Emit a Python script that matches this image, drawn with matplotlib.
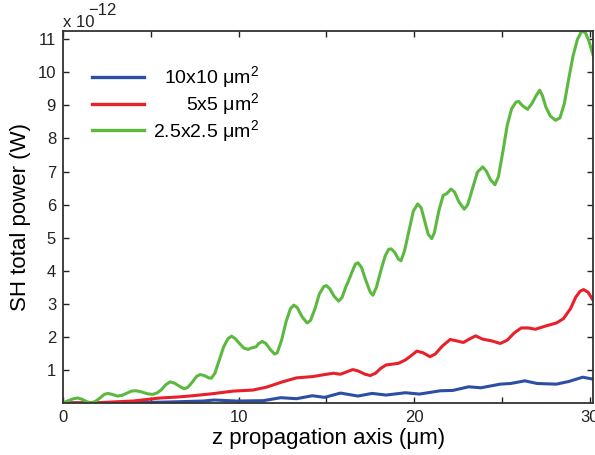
import matplotlib
matplotlib.use('Agg')
import matplotlib.pyplot as plt

plt.rcParams['font.family'] = ['Liberation Sans', 'DejaVu Sans']
plt.rcParams['mathtext.fontset'] = 'custom'
plt.rcParams['mathtext.rm'] = 'Liberation Sans'
plt.rcParams['mathtext.it'] = 'Liberation Sans'

# SH total power vs propagation distance, in units of 1e-12 W
z_green = [0.0, 0.3, 0.6, 0.85, 1.1, 1.35, 1.6, 1.85, 2.1, 2.35, 2.55, 2.8, 3.1, 3.35, 3.65,
           3.9, 4.15, 4.45, 4.8, 5.1, 5.35, 5.6, 5.85, 6.1, 6.35, 6.65, 6.9, 7.1, 7.35, 7.6,
           7.8, 8.05, 8.3, 8.45, 8.65, 8.9, 9.15, 9.4, 9.6, 9.8, 10.05, 10.3, 10.55, 10.7,
           10.85, 11.0, 11.15, 11.35, 11.55, 11.8, 12.05, 12.2, 12.45, 12.7, 12.95, 13.15,
           13.35, 13.6, 13.9, 14.1, 14.35, 14.6, 14.85, 15.0, 15.2, 15.45, 15.7, 15.9, 16.1,
           16.25, 16.45, 16.65, 16.8, 17.0, 17.25, 17.5, 17.65, 17.85, 18.1, 18.35, 18.55,
           18.7, 18.9, 19.1, 19.25, 19.45, 19.7, 19.95, 20.2, 20.4, 20.6, 20.8, 21.0, 21.15,
           21.4, 21.65, 21.85, 22.1, 22.3, 22.55, 22.85, 23.05, 23.3, 23.6, 23.9, 24.1, 24.35,
           24.6, 24.8, 25.05, 25.3, 25.55, 25.8, 25.95, 26.15, 26.45, 26.7, 26.95, 27.15,
           27.3, 27.5, 27.75, 28.05, 28.3, 28.55, 28.8, 29.05, 29.3, 29.55, 29.75, 29.95, 30.2]
p_green = [0.0, 0.07, 0.13, 0.15, 0.11, 0.04, 0.0, 0.05, 0.15, 0.26, 0.29, 0.26, 0.21, 0.23,
           0.3, 0.36, 0.37, 0.34, 0.28, 0.26, 0.3, 0.4, 0.55, 0.64, 0.6, 0.5, 0.43, 0.47,
           0.62, 0.8, 0.86, 0.83, 0.76, 0.75, 0.9, 1.3, 1.7, 1.95, 2.02, 1.95, 1.8, 1.66,
           1.62, 1.66, 1.68, 1.7, 1.8, 1.86, 1.8, 1.62, 1.48, 1.52, 1.9, 2.45, 2.85, 2.96,
           2.88, 2.62, 2.42, 2.5, 2.85, 3.3, 3.52, 3.55, 3.45, 3.22, 3.08, 3.2, 3.5, 3.68,
           3.95, 4.2, 4.24, 4.1, 3.7, 3.35, 3.26, 3.5, 4.0, 4.45, 4.65, 4.66, 4.55, 4.35,
           4.3, 4.6, 5.2, 5.8, 6.02, 5.9, 5.5, 5.1, 4.97, 5.15, 5.8, 6.28, 6.33, 6.47, 6.38,
           6.08, 5.86, 6.0, 6.45, 6.98, 7.14, 7.02, 6.75, 6.6, 6.85, 7.6, 8.4, 8.9, 9.1,
           9.12, 9.0, 8.88, 9.05, 9.3, 9.46, 9.3, 8.95, 8.68, 8.55, 8.62, 9.05, 9.8, 10.5,
           11.0, 11.25, 11.2, 10.95, 10.5]

z_red = [0, 2, 4, 5.5, 6.5, 7.4, 8.5, 9.7, 10.8, 11.6, 12.5, 13.3, 14.25, 14.9, 15.4, 15.8,
         16.2, 16.5, 16.8, 17.2, 17.5, 17.8, 18.1, 18.4, 19.1, 19.5, 19.8, 20.15, 20.5, 20.9,
         21.2, 21.6, 22.05, 22.4, 22.8, 23.2, 23.5, 23.9, 24.4, 24.9, 25.3, 25.7, 26.1, 26.5,
         26.9, 27.5, 28.1, 28.5, 28.9, 29.2, 29.45, 29.65, 29.9, 30.2]
p_red = [0, 0.01, 0.06, 0.15, 0.18, 0.22, 0.28, 0.36, 0.39, 0.48, 0.64, 0.76, 0.8, 0.86,
         0.9, 0.87, 0.95, 1.01, 0.97, 0.87, 0.83, 0.9, 1.05, 1.15, 1.2, 1.3, 1.42, 1.57, 1.52,
         1.4, 1.48, 1.72, 1.92, 1.88, 1.83, 1.95, 2.03, 1.93, 1.88, 1.8, 1.9, 2.12, 2.27,
         2.27, 2.23, 2.33, 2.42, 2.55, 2.85, 3.2, 3.38, 3.43, 3.35, 3.1]

z_blue = [0, 4, 6, 8, 8.6, 9.9, 11.4, 12.4, 13.3, 14.2, 14.9, 15.8, 16.8, 17.6, 18.4, 19.5,
          20.3, 21.5, 22.2, 23.1, 23.8, 24.9, 25.5, 26.3, 27.0, 28.1, 28.8, 29.6, 30.2]
p_blue = [0, 0.01, 0.03, 0.06, 0.09, 0.06, 0.07, 0.16, 0.13, 0.22, 0.17, 0.3, 0.21, 0.29,
          0.24, 0.31, 0.27, 0.37, 0.38, 0.49, 0.46, 0.57, 0.59, 0.67, 0.59, 0.57, 0.65,
          0.78, 0.72]

labels = ['10x10 $\\mu$m$^2$', '5x5 $\\mu$m$^2$', '2.5x2.5 $\\mu$m$^2$']
colors = ['#2d4fa3', '#e8202a', '#5cb940']

x_ticks = [0, 5, 10, 15, 20, 25, 30]
x_ticklabels = ['0', '', '10', '', '20', '', '30']
y_ticks = [1, 2, 3, 4, 5, 6, 7, 8, 9, 10, 11]

fig = plt.figure(figsize=(5.95, 4.55), dpi=100)
ax = fig.add_axes([0.1059, 0.1143, 0.8912, 0.8176])

lw = 2.2
ax.plot(z_blue, p_blue, color=colors[0], lw=lw, label=labels[0], solid_joinstyle='round')
ax.plot(z_red, p_red, color=colors[1], lw=lw, label=labels[1], solid_joinstyle='round')
ax.plot(z_green, p_green, color=colors[2], lw=lw, label=labels[2], solid_joinstyle='round')

ax.set_xlim(0, 30.2)
ax.set_ylim(0, 11.25)
ax.set_xticks(x_ticks)
ax.set_xticklabels(x_ticklabels)
ax.set_yticks(y_ticks)
ax.tick_params(direction='in', length=4, width=1, top=True, right=True,
               labelsize=12, colors='#222222', pad=5)
for s in ax.spines.values():
    s.set_color('#333333')
    s.set_linewidth(1.3)

ax.set_xlabel('z propagation axis (μm)', fontsize=16, labelpad=2)
ax.set_ylabel('SH total power (W)', fontsize=16, labelpad=5)

# MATLAB-style exponent label above the axes
fig.text(0.1059, 0.9407, 'x 10', fontsize=12, color='#222222', va='baseline')
fig.text(0.1480, 0.9670, '\u221212', fontsize=12, color='#222222', va='baseline')

leg = ax.legend(loc='upper left', bbox_to_anchor=(0.055, 0.91), frameon=False,
                fontsize=14, handlelength=2.65, handletextpad=0.5, labelspacing=0.05,
                borderaxespad=0, borderpad=0)
for line in leg.get_lines():
    line.set_linewidth(2.4)

# right-align the legend texts like the original
renderer = fig.canvas.get_renderer()
widths = [t.get_window_extent(renderer).width for t in leg.get_texts()]
for t, w in zip(leg.get_texts(), widths):
    t.set_position((max(widths) - w, 0))

fig.savefig('out.png', dpi=100)
